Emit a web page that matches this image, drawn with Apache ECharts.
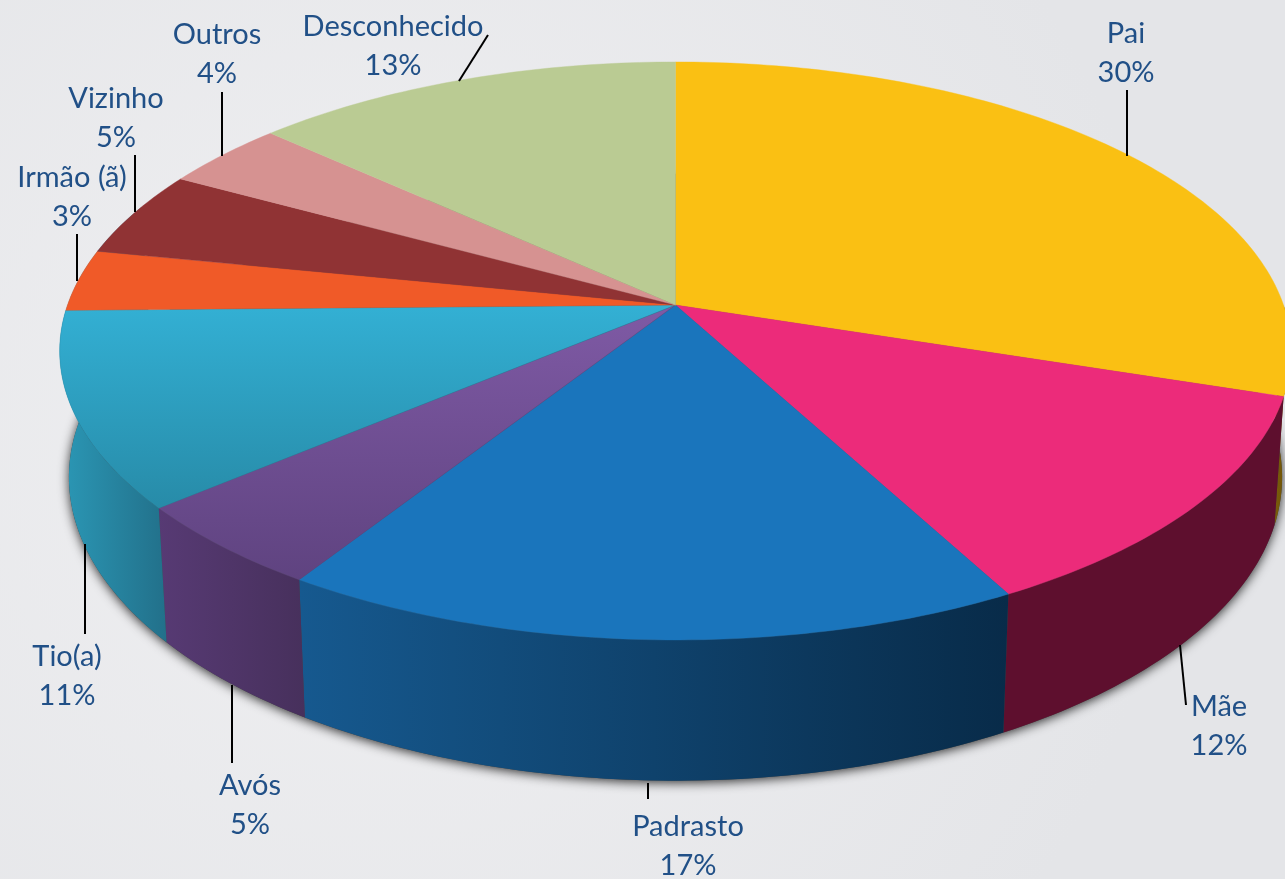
<!DOCTYPE html>
<html>
<head>
<meta charset="utf-8">
<title>Pie</title>
<style>
html, body { margin: 0; padding: 0; background: #e9e9ec; overflow: hidden; }
#chart { width: 1285px; height: 879px; }
</style>
<script src="https://cdn.jsdelivr.net/npm/echarts@6/dist/echarts.min.js"></script>
</head>
<body>
<div id="chart"></div>
<script>
const names = ['Pai', 'Mãe', 'Padrasto', 'Avós', 'Tio(a)', 'Irmão (ã)', 'Vizinho', 'Outros', 'Desconhecido'];
const values = [30, 12.2, 16.8, 4.8, 10.9, 3.45, 4.85, 3.8, 13.2];

// colours of the top face and of the side wall, per slice
const topColors = [['#FAC013', '#FAC013'], ['#EC2B7A', '#EC2B7A'], ['#1A75BC', '#1A75BC'], ['#7F5AA5', '#5F4380'],
    ['#33B0D4', '#278BA8'], ['#F05A28', '#F05A28'], ['#903334', '#903334'], ['#D69291', '#D69291'], ['#BACB93', '#BACB93']];
const wallColors = [['#7A5C0A', '#6A5008'], ['#5E0F2E', '#5E0F2E'], ['#16598F', '#082B49'], ['#573A74', '#47305C'],
    ['#2B98B6', '#22708A']];

// label centre and leader line, pixels
const labelBoxes = [
    { x: 1126, y: 53, line: [1127, 90, 1127, 156] },
    { x: 1219, y: 726, line: [1180, 645, 1186, 705] },
    { x: 688, y: 846, line: [648, 783, 648, 799] },
    { x: 250, y: 805, line: [232, 685, 232, 763] },
    { x: 67, y: 676, line: [85, 544, 85, 634] },
    { x: 72, y: 197, line: [77, 234, 77, 281] },
    { x: 116, y: 118, line: [135, 155, 135, 212] },
    { x: 217, y: 54, line: [222, 92, 222, 156] },
    { x: 393, y: 46, line: [488, 35, 459, 81] }
];

// perspective of the disc
const persp = -0.159;
const bottomScaleX = 0.985;
const bottomScaleY = 1.05;
const depth = 0.44;
const wallSlice = names.indexOf('Tio(a)');

const total = values.reduce((a, b) => a + b, 0);
const startShare = [];
values.reduce((sum, v, i) => { startShare[i] = sum; return sum + v; }, 0);

function topPoint(theta) {
    let u = Math.sin(theta), v = -Math.cos(theta), d = 1 + persp * v;
    return [u / d, v / d];
}

function bottomPoint(theta) {
    let p = topPoint(theta);
    return [p[0] * bottomScaleX, p[1] * bottomScaleY + depth];
}

function arc(from, to, fn, api) {
    let pts = [];
    let steps = Math.max(2, Math.ceil((to - from) / (Math.PI / 180)));
    for (let i = 0; i <= steps; i++) {
        pts.push(api.coord(fn(from + (to - from) * i / steps)));
    }
    return pts;
}

function sliceAngles(i) {
    let a = startShare[i] / total * Math.PI * 2;
    return [a, a + values[i] / total * Math.PI * 2];
}

function grad(x2, y2, c) {
    return new echarts.graphic.LinearGradient(0, 0, x2, y2, [{ offset: 0, color: c[0] }, { offset: 1, color: c[1] }]);
}

function renderShadow(params, api) {
    return {
        type: 'polygon',
        shape: { points: arc(0, Math.PI * 2, bottomPoint, api) },
        style: { fill: '#444', shadowBlur: 11, shadowColor: 'rgba(0,0,0,0.8)', shadowOffsetY: 2 }
    };
}

function renderWall(params, api) {
    let i = params.dataIndex;
    if (i > wallSlice) return null;
    let a = sliceAngles(i);
    // only the front part of the disc shows a wall, the left one wraps round the rim
    let from = Math.max(a[0], Math.PI * 0.5), to = i === wallSlice ? Math.PI * 1.62 : a[1];
    if (from >= to) return null;
    let pts = arc(from, to, topPoint, api).concat(arc(from, to, bottomPoint, api).reverse());
    return { type: 'polygon', shape: { points: pts }, style: { fill: grad(1, 0, wallColors[i]) } };
}

function renderTop(params, api) {
    let i = params.dataIndex;
    let a = sliceAngles(i);
    let pts = [api.coord([0, 0])].concat(arc(a[0], a[1], topPoint, api));
    return {
        type: 'polygon',
        shape: { points: pts },
        style: { fill: grad(0, 1, topColors[i]), stroke: topColors[i][1], lineWidth: 0.4 }
    };
}

const labelGraphics = [];
names.forEach((name, i) => {
    let b = labelBoxes[i];
    labelGraphics.push({
        type: 'line',
        shape: { x1: b.line[0], y1: b.line[1], x2: b.line[2], y2: b.line[3] },
        style: { stroke: '#000', lineWidth: 2 },
        z: 20
    });
    labelGraphics.push({
        type: 'text',
        x: b.x,
        y: b.y,
        style: {
            text: name + '\n' + Math.round(values[i]) + '%',
            fill: '#215087',
            font: '29px Lato',
            lineHeight: 39,
            align: 'center',
            verticalAlign: 'middle'
        },
        z: 21
    });
});

const sliceData = values.map((v, i) => [v, names[i]]);

const chart = echarts.init(document.getElementById('chart'), null, { renderer: 'canvas' });
chart.setOption({
    animation: false,
    backgroundColor: new echarts.graphic.RadialGradient(0.3, 0.5, 0.9, [
        { offset: 0, color: '#F0F0F2' },
        { offset: 1, color: '#E4E5E8' }
    ]),
    grid: { left: 67.5, top: 23.3, width: 1216, height: 563.4 },
    xAxis: { type: 'value', min: -1, max: 1, show: false },
    yAxis: { type: 'value', min: -1, max: 1, inverse: true, show: false },
    graphic: labelGraphics,
    series: [
        { type: 'custom', coordinateSystem: 'cartesian2d', clip: false, silent: true, z: 2, data: [[0, 0]], renderItem: renderShadow },
        { type: 'custom', coordinateSystem: 'cartesian2d', clip: false, silent: true, z: 3, data: sliceData, encode: { x: 0 }, renderItem: renderWall },
        { type: 'custom', coordinateSystem: 'cartesian2d', clip: false, silent: true, z: 4, data: sliceData, encode: { x: 0 }, renderItem: renderTop }
    ]
});
</script>
</body>
</html>
